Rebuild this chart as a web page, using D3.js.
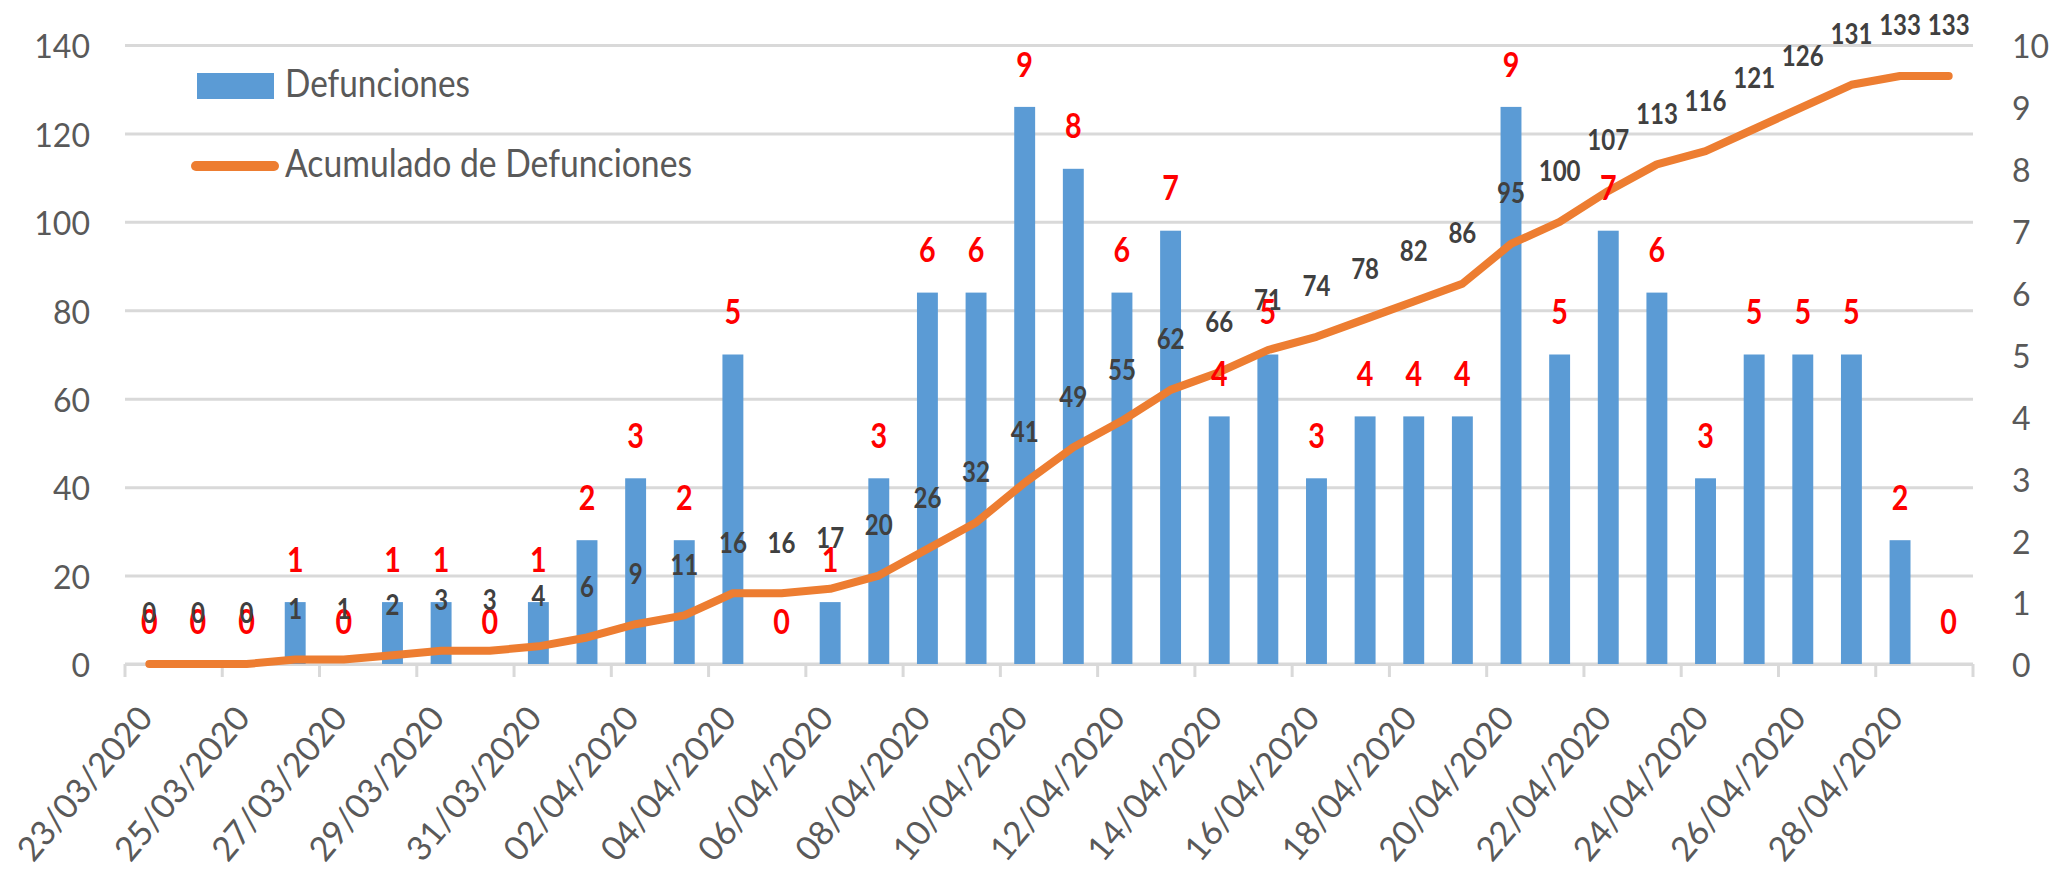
<!DOCTYPE html>
<html>
<head>
<meta charset="utf-8">
<script src="https://cdn.jsdelivr.net/npm/d3@7/dist/d3.min.js"></script>
<style>
  html, body { margin: 0; padding: 0; background: #fff; }
  svg { display: block; }
</style>
</head>
<body>
<svg class="chart"></svg>
<script>
// fechas (eje de categorias)
const fechas = [
    '23/03/2020', '24/03/2020', '25/03/2020', '26/03/2020', '27/03/2020', '28/03/2020',
    '29/03/2020', '30/03/2020', '31/03/2020', '01/04/2020', '02/04/2020', '03/04/2020',
    '04/04/2020', '05/04/2020', '06/04/2020', '07/04/2020', '08/04/2020', '09/04/2020',
    '10/04/2020', '11/04/2020', '12/04/2020', '13/04/2020', '14/04/2020', '15/04/2020',
    '16/04/2020', '17/04/2020', '18/04/2020', '19/04/2020', '20/04/2020', '21/04/2020',
    '22/04/2020', '23/04/2020', '24/04/2020', '25/04/2020', '26/04/2020', '27/04/2020',
    '28/04/2020', '29/04/2020'
];
// defunciones diarias (barras, eje derecho)
const defunciones = [0, 0, 0, 1, 0, 1, 1, 0, 1, 2, 3, 2, 5, 0, 1, 3, 6, 6, 9, 8, 6, 7, 4, 5, 3, 4, 4, 4, 9, 5, 7, 6, 3, 5, 5, 5, 2, 0];
// acumulado (linea, eje izquierdo)
const acumulado = [0, 0, 0, 1, 1, 2, 3, 3, 4, 6, 9, 11, 16, 16, 17, 20, 26, 32, 41, 49, 55, 62, 66, 71, 74, 78, 82, 86, 95, 100, 107, 113, 116, 121, 126, 131, 133, 133];
const ticksIzq = [0, 20, 40, 60, 80, 100, 120, 140];
const ticksDer = [0, 1, 2, 3, 4, 5, 6, 7, 8, 9, 10];
const nombres = ['Defunciones', 'Acumulado de Defunciones'];

const width = 2054;
const height = 869;
const marginTop = 45;
const marginBottom = 205;
const marginLeft = 125;
const marginRight = 81;
const font = 'Lato, "Open Sans", sans-serif';
const colorBar = '#5B9BD5';
const colorLine = '#ED7D31';
const colorGrid = '#D9D9D9';
const colorText = '#595959';

const x = d3.scaleBand()
    .domain(fechas)
    .range([marginLeft, width - marginRight])
    .paddingInner(0.57)
    .paddingOuter(0.285);
const xEdge = d3.scaleLinear([0, fechas.length], [marginLeft, width - marginRight]);
const yLeft = d3.scaleLinear([0, 140], [height - marginBottom, marginTop]);
const yRight = d3.scaleLinear([0, 10], [height - marginBottom, marginTop]);
const cx = d => x(d) + x.bandwidth() / 2;

const svg = d3.select('.chart')
    .attr('width', width)
    .attr('height', height)
    .attr('viewBox', [0, 0, width, height])
    .style('font-family', font);

// gridlines + left labels
svg.append('g')
    .attr('transform', `translate(${marginLeft},0)`)
    .call(d3.axisLeft(yLeft).tickValues(ticksIzq).tickSize(-(width - marginLeft - marginRight)).tickPadding(35))
    .call(g => g.select('.domain').remove())
    .call(g => g.selectAll('.tick line').attr('stroke', colorGrid).attr('stroke-width', 3))
    .call(g => g.selectAll('.tick text')
        .attr('fill', colorText)
        .attr('font-size', 32)
        .attr('font-family', font)
        .attr('dy', '0.4em'));

// right labels
svg.append('g')
    .attr('transform', `translate(${width - marginRight},0)`)
    .call(d3.axisRight(yRight).tickValues(ticksDer).tickSize(0).tickPadding(39))
    .call(g => g.select('.domain').remove())
    .call(g => g.selectAll('.tick text')
        .attr('fill', colorText)
        .attr('font-size', 32)
        .attr('font-family', font)
        .attr('dy', '0.4em'));

// category axis line and tick marks (every 2 days)
const axisY = yLeft(0);
svg.append('line')
    .attr('x1', xEdge(0)).attr('x2', xEdge(fechas.length))
    .attr('y1', axisY).attr('y2', axisY)
    .attr('stroke', colorGrid).attr('stroke-width', 3);
svg.append('g')
    .selectAll('line')
    .data(d3.range(0, fechas.length + 1, 2))
    .join('line')
        .attr('x1', d => xEdge(d)).attr('x2', d => xEdge(d))
        .attr('y1', axisY).attr('y2', axisY + 13)
        .attr('stroke', colorGrid).attr('stroke-width', 3);

// date labels
svg.append('g')
    .attr('transform', `translate(0,${axisY})`)
    .call(d3.axisBottom(x).tickValues(fechas.filter((d, i) => i % 2 === 0)).tickSize(0))
    .call(g => g.select('.domain').remove())
    .call(g => g.selectAll('.tick text')
        .attr('fill', colorText)
        .attr('font-size', 34)
        .attr('font-family', font)
        .attr('text-anchor', 'end')
        .attr('x', 0).attr('y', 0).attr('dy', 0)
        .attr('transform', 'translate(5,55) rotate(-50)'));

// bars
svg.append('g')
    .selectAll('rect')
    .data(defunciones)
    .join('rect')
        .attr('x', (d, i) => x(fechas[i]))
        .attr('width', x.bandwidth())
        .attr('y', d => yRight(d))
        .attr('height', d => yRight(0) - yRight(d))
        .attr('fill', colorBar);

// cumulative line
const line = d3.line()
    .x((d, i) => cx(fechas[i]))
    .y(d => yLeft(d));
svg.append('path')
    .datum(acumulado)
    .attr('fill', 'none')
    .attr('stroke', colorLine)
    .attr('stroke-width', 8)
    .attr('stroke-linejoin', 'round')
    .attr('stroke-linecap', 'round')
    .attr('d', line);

// red labels (daily)
svg.append('g')
    .selectAll('text')
    .data(defunciones)
    .join('text')
        .attr('transform', (d, i) => `translate(${cx(fechas[i])},${yRight(d) - 43}) scale(0.82,1)`)
        .attr('dy', '0.36em')
        .attr('text-anchor', 'middle')
        .attr('font-size', 35)
        .attr('font-weight', 'bold')
        .attr('fill', '#FF0000')
        .text(d => d);

// dark labels (cumulative)
svg.append('g')
    .selectAll('text')
    .data(acumulado)
    .join('text')
        .attr('transform', (d, i) => `translate(${cx(fechas[i])},${yLeft(d) - 51}) scale(0.83,1)`)
        .attr('dy', '0.36em')
        .attr('text-anchor', 'middle')
        .attr('font-size', 29)
        .attr('font-weight', 'bold')
        .attr('fill', '#404040')
        .text(d => d);

// legend
const legend = svg.append('g');
legend.append('rect')
    .attr('x', 197).attr('y', 73)
    .attr('width', 77).attr('height', 26)
    .attr('fill', colorBar);
legend.append('line')
    .attr('x1', 196).attr('x2', 274)
    .attr('y1', 166).attr('y2', 166)
    .attr('stroke', colorLine).attr('stroke-width', 10)
    .attr('stroke-linecap', 'round');
legend.selectAll('text')
    .data(nombres)
    .join('text')
        .attr('x', 285)
        .attr('y', (d, i) => i === 0 ? 97 : 177)
        .attr('font-size', 38)
        .attr('fill', colorText)
        .attr('textLength', (d, i) => i === 0 ? 185 : 407)
        .attr('lengthAdjust', 'spacingAndGlyphs')
        .text(d => d);
</script>
</body>
</html>
